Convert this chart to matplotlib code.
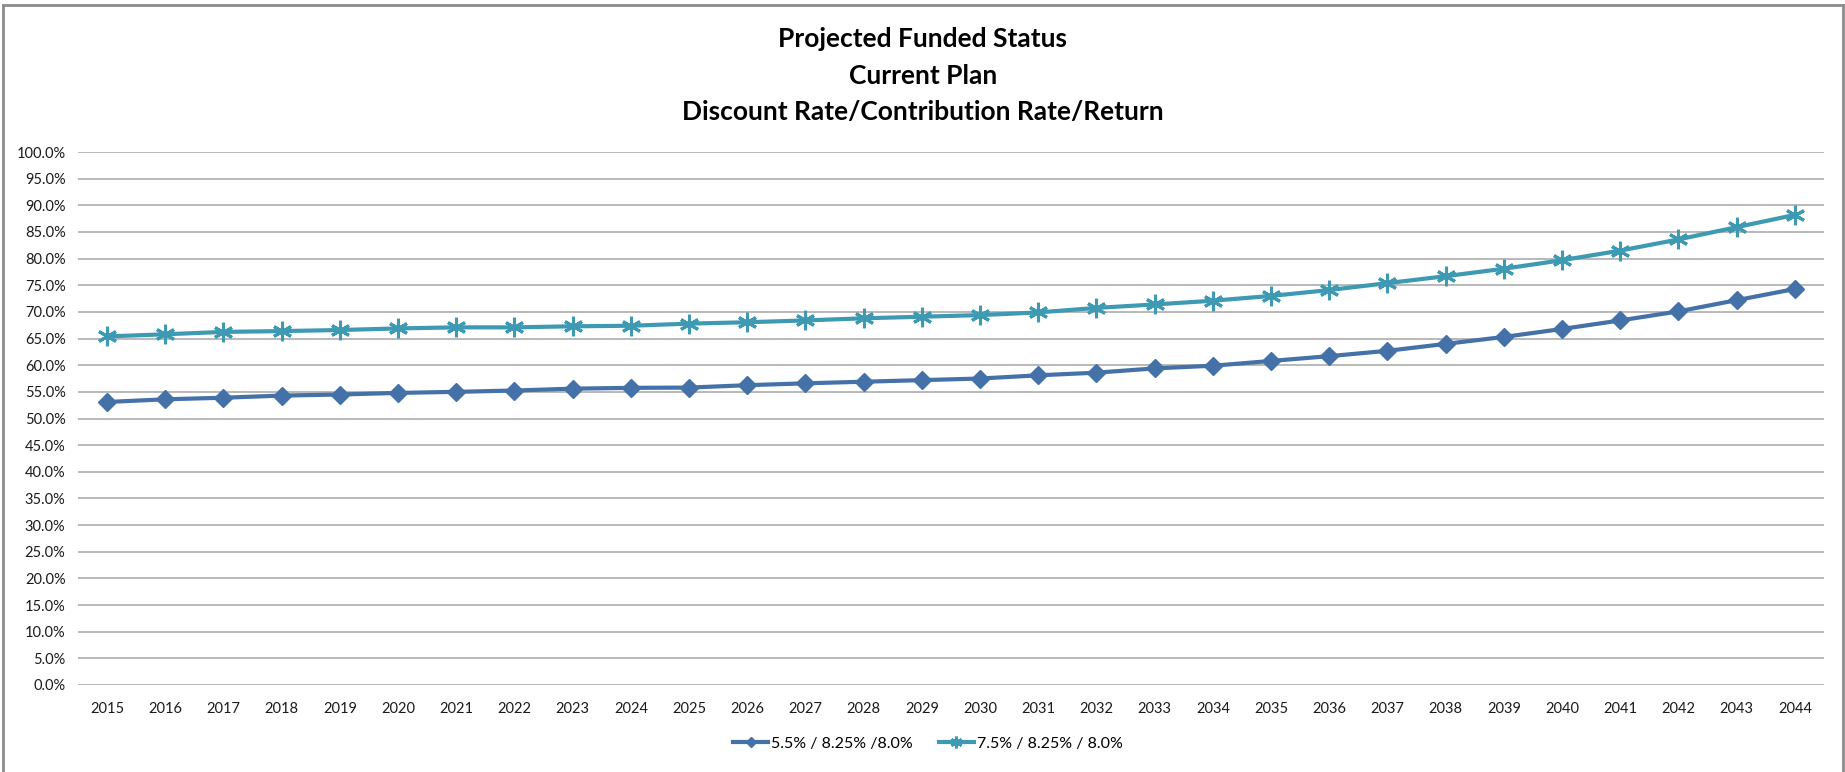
import matplotlib
matplotlib.use("Agg")
import matplotlib.pyplot as plt
from matplotlib.lines import Line2D
from matplotlib.ticker import FuncFormatter, MultipleLocator

plt.rcParams['font.family'] = ['Lato', 'DejaVu Sans']

years = [str(y) for y in range(2015, 2045)]
series_a_label = "5.5% / 8.25% /8.0%"
series_b_label = "7.5% / 8.25% / 8.0%"
series_a = [53.1, 53.6, 53.9, 54.3, 54.5, 54.8, 55.0, 55.25, 55.6, 55.75,
            55.8, 56.25, 56.6, 56.9, 57.2, 57.5, 58.1, 58.6, 59.4, 59.9,
            60.8, 61.7, 62.7, 64.0, 65.3, 66.8, 68.4, 70.1, 72.2, 74.3]
series_b = [65.4, 65.8, 66.25, 66.4, 66.6, 66.9, 67.1, 67.1, 67.3, 67.4,
            67.8, 68.06, 68.4, 68.8, 69.1, 69.4, 69.9, 70.75, 71.4, 72.1,
            73.0, 74.1, 75.4, 76.7, 78.1, 79.7, 81.5, 83.6, 85.9, 88.2]
title_lines = ["Projected Funded Status", "Current Plan", "Discount Rate/Contribution Rate/Return"]

W, H = 1845, 772
fig = plt.figure(figsize=(W / 100, H / 100), dpi=100)
ax = fig.add_axes([78 / W, 1 - 685 / H, (1824 - 78) / W, (685 - 152) / H])

x = list(range(len(years)))
col_a = '#4571A9'
col_b = '#3E9AB3'
ax.plot(x, series_a, color=col_a, lw=3, marker='D', markersize=9,
        markeredgecolor=col_a, label=series_a_label, zorder=3)
ax.plot(x, series_b, color=col_b, lw=3, marker=(6, 2, 0), markersize=14,
        markeredgewidth=2.2, markeredgecolor=col_b, label=series_b_label, zorder=3)

ax.set_xlim(-0.5, len(years) - 0.5)
ax.set_ylim(0, 100)
ax.yaxis.set_major_locator(MultipleLocator(5))
ax.yaxis.set_major_formatter(FuncFormatter(lambda v, p: f"{v:.1f}%"))
ax.set_xticks(x)
ax.set_xticklabels(years)
ax.grid(axis='y', color='#A6A6A6', lw=1.1)
ax.set_axisbelow(True)
for s in ax.spines.values():
    s.set_visible(False)
ax.tick_params(axis='both', length=0, labelsize=10.5, colors='#1a1a1a')
ax.tick_params(axis='y', pad=9)
ax.tick_params(axis='x', pad=12)

for i, t in enumerate(title_lines):
    fig.text(923 / W, 1 - (39 + 36.5 * i) / H, t, ha='center', va='center',
             fontsize=19, fontweight='bold', color='black')

fig.legend(loc='center', bbox_to_anchor=(928 / W, 1 - 744 / H), ncol=2,
           frameon=False, fontsize=11.5, handlelength=2.2, columnspacing=1.6,
           handletextpad=0.2, markerscale=0.6)

# chart border
bc = '#8C8C8C'
fig.add_artist(Line2D([3 / W, 3 / W], [0, 1 - 5 / H], color=bc, lw=2, transform=fig.transFigure))
fig.add_artist(Line2D([3 / W, 1843 / W], [1 - 5 / H, 1 - 5 / H], color=bc, lw=2, transform=fig.transFigure))
fig.add_artist(Line2D([1843 / W, 1843 / W], [0, 1 - 5 / H], color=bc, lw=2, transform=fig.transFigure))

fig.savefig('out.png', dpi=100, facecolor='white')
